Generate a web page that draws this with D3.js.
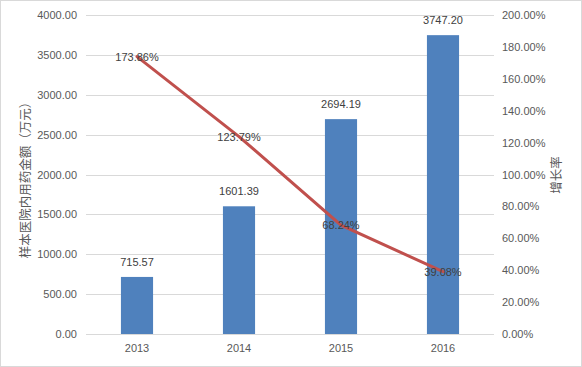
<!DOCTYPE html>
<html><head><meta charset="utf-8">
<script src="https://cdn.jsdelivr.net/npm/d3@7"></script>
<style>
body{margin:0;background:#fff;}
text{font-family:"Liberation Sans",Arial,sans-serif;}
</style></head>
<body>
<svg id="c" width="582" height="367"></svg>
<script>
const categories = ["2013","2014","2015","2016"];
const amounts = [715.57, 1601.39, 2694.19, 3747.20];
const growth = [173.86, 123.79, 68.24, 39.08];
const leftTicks = [0,500,1000,1500,2000,2500,3000,3500,4000];
const rightTicks = [0,20,40,60,80,100,120,140,160,180,200];

const svg = d3.select("#c");
const W=582,H=367;
const m={l:86,r:88,t:15,b:33};
svg.append("rect").attr("x",0.5).attr("y",0.5).attr("width",W-1).attr("height",H-1)
  .attr("fill","#fff").attr("stroke","#D9D9D9");

const x = d3.scaleBand().domain(categories).range([m.l,W-m.r]).paddingInner(0.685).paddingOuter(0.3425);
const yL = d3.scaleLinear().domain([0,4000]).range([H-m.b,m.t]);
const yR = d3.scaleLinear().domain([0,200]).range([H-m.b,m.t]);

// gridlines
svg.append("g").selectAll("line").data(leftTicks).join("line")
  .attr("x1",m.l).attr("x2",W-m.r)
  .attr("y1",d=>Math.round(yL(d))+0.5).attr("y2",d=>Math.round(yL(d))+0.5)
  .attr("stroke","#D9D9D9").attr("stroke-width",1);

// left axis
const gl = svg.append("g").attr("transform",`translate(${m.l},0)`)
  .call(d3.axisLeft(yL).tickValues(leftTicks).tickFormat(d=>d3.format(".2f")(d)).tickSize(0).tickPadding(9));
gl.select(".domain").remove();
gl.selectAll("text").attr("fill","#595959").style("font-size","11px").style("font-family","'Liberation Sans',Arial,sans-serif");

// right axis
const gr = svg.append("g").attr("transform",`translate(${W-m.r},0)`)
  .call(d3.axisRight(yR).tickValues(rightTicks).tickFormat(d=>d3.format(".2f")(d)+"%").tickSize(0).tickPadding(8));
gr.select(".domain").remove();
gr.selectAll("text").attr("fill","#595959").style("font-size","11px").style("font-family","'Liberation Sans',Arial,sans-serif");

// bottom axis
const gb = svg.append("g").attr("transform",`translate(0,${H-m.b})`)
  .call(d3.axisBottom(x).tickSize(0).tickPadding(10));
gb.select(".domain").remove();
gb.selectAll("text").attr("fill","#595959").style("font-size","11px").style("font-family","'Liberation Sans',Arial,sans-serif");

// bars
svg.append("g").selectAll("rect").data(amounts).join("rect")
  .attr("x",(d,i)=>x(categories[i])).attr("width",x.bandwidth())
  .attr("y",d=>yL(d)).attr("height",d=>yL(0)-yL(d)).attr("fill","#4F81BD");

svg.append("g").selectAll("text").data(amounts).join("text")
  .attr("x",(d,i)=>x(categories[i])+x.bandwidth()/2).attr("y",d=>yL(d)-11)
  .attr("text-anchor","middle").attr("fill","#404040").style("font-size","11px")
  .text(d=>d3.format(".2f")(d));

// line
const cx = i=>x(categories[i])+x.bandwidth()/2;
svg.append("path").datum(growth)
  .attr("d",d3.line().x((d,i)=>cx(i)).y(d=>yR(d)))
  .attr("fill","none").attr("stroke","#C0504D").attr("stroke-width",3).attr("stroke-linecap","round");

svg.append("g").selectAll("text").data(growth).join("text")
  .attr("x",(d,i)=>cx(i)).attr("y",d=>yR(d)+4)
  .attr("text-anchor","middle").attr("fill","#404040").style("font-size","11px")
  .text(d=>d3.format(".2f")(d)+"%");

// titles
svg.append("text").attr("transform","translate(30,177) rotate(-90)")
  .attr("text-anchor","middle").attr("fill","#595959")
  .style("font-size","12.5px").style("font-family","'Noto Sans CJK SC',sans-serif")
  .text("样本医院内用药金额（万元）");
svg.append("text").attr("transform","translate(561,175) rotate(-90)")
  .attr("text-anchor","middle").attr("fill","#595959")
  .style("font-size","12.5px").style("font-family","'Noto Sans CJK SC',sans-serif")
  .text("增长率");
</script>
</body></html>
